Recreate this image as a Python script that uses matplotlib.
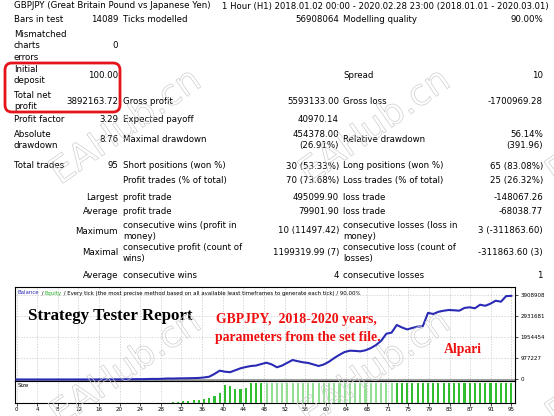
import matplotlib
matplotlib.use("Agg")
import matplotlib.pyplot as plt
import matplotlib.patheffects as pe
from matplotlib.patches import FancyBboxPatch
from matplotlib.transforms import IdentityTransform
import numpy as np

W, H = 554, 416

# header
title_left = "GBPJPY (Great Britain Pound vs Japanese Yen)"
title_right = "1 Hour (H1) 2018.01.02 00:00 - 2020.02.28 23:00 (2018.01.01 - 2020.03.01)"

# report table: label, value, label, value, label, value
report_rows = [
    ["Bars in test", "14089", "Ticks modelled", "56908064", "Modelling quality", "90.00%"],
    ["Mismatched\ncharts\nerrors", "0", "", "", "", ""],
    ["Initial\ndeposit", "100.00", "", "", "Spread", "10"],
    ["Total net\nprofit", "3892163.72", "Gross profit", "5593133.00", "Gross loss", "-1700969.28"],
    ["Profit factor", "3.29", "Expected payoff", "40970.14", "", ""],
    ["Absolute\ndrawdown", "8.76", "Maximal drawdown", "454378.00\n(26.91%)",
     "Relative drawdown", "56.14%\n(391.96)"],
    ["Total trades", "95", "Short positions (won %)", "30 (53.33%)",
     "Long positions (won %)", "65 (83.08%)"],
    ["", "", "Profit trades (% of total)", "70 (73.68%)",
     "Loss trades (% of total)", "25 (26.32%)"],
    ["", "Largest", "profit trade", "495099.90", "loss trade", "-148067.26"],
    ["", "Average", "profit trade", "79901.90", "loss trade", "-68038.77"],
    ["", "Maximum", "consecutive wins (profit in\nmoney)", "10 (11497.42)",
     "consecutive losses (loss in\nmoney)", "3 (-311863.60)"],
    ["", "Maximal", "consecutive profit (count of\nwins)", "1199319.99 (7)",
     "consecutive loss (count of\nlosses)", "-311863.60 (3)"],
    ["", "Average", "consecutive wins", "4", "consecutive losses", "1"],
]

# balance after each trade (trade 0 = initial deposit)
balance = [
    100, 91.24, 128, 175, 240, 215, 300, 410, 560, 760,
    690, 940, 1280, 1750, 2380, 2150, 2950, 4000, 5450, 7400,
    6700, 9100, 12400, 16800, 15200, 20600, 27900, 25300, 34200, 46300,
    44000, 52000, 54000, 58000, 65000, 72000, 95000, 130000, 260000, 410000,
    363000, 340000, 430000, 521000, 580000, 628000, 650000, 720000, 782000, 700000,
    568000, 650000, 780000, 907000, 850000, 800000, 770000, 700000, 628000, 700000,
    830000, 1000000, 1150000, 1280000, 1340000, 1330000, 1310000, 1360000, 1460000, 1600000,
    1800000, 2130000, 2180000, 2536000, 2420000, 2330000, 2400000, 2460000, 2480000, 3100000,
    3048000, 3150000, 3200000, 3234000, 3220000, 3202000, 3330000, 3360000, 3313000, 3480000,
    3430000, 3530000, 3667000, 3620000, 3880000, 3892264,
]

# lot size per trade
lot_size = [
    0.01, 0.01, 0.01, 0.01, 0.02, 0.02, 0.03, 0.03, 0.04, 0.05,
    0.06, 0.08, 0.1, 0.13, 0.17, 0.2, 0.25, 0.3, 0.4, 0.5,
    0.6, 0.7, 0.8, 1.0, 1.2, 1.4, 1.6, 1.8, 2.0, 2.5,
    4, 6, 8, 11, 13, 17, 20, 26, 35, 52,
    90, 85, 72, 72, 77, 100, 100, 100, 100, 100,
] + [100] * 46

y_ticks = [0, 977227, 1954454, 2931681, 3908908]
x_tick_labels = ["0", "4", "8", "12", "16", "20", "24", "28", "32", "36", "40", "44", "48",
                 "52", "56", "60", "64", "68", "71", "75", "79", "83", "87", "91", "95"]

legend_parts = [("Balance", "#2a2ab5"), (" / ", "black"), ("Equity", "#22b022"),
                (" / Every tick (the most precise method based on all available least "
                 "timeframes to generate each tick) / 90.00%", "black")]

fig = plt.figure(figsize=(W / 100, H / 100), dpi=100)
fig.patch.set_facecolor("white")


def fx(x):
    return x / W


def fy(y):
    return 1 - y / H


font = dict(family="DejaVu Sans", fontsize=6.2, color="black", linespacing=1.3)

fig.text(fx(14), fy(6), title_left, ha="left", va="center", **font)
fig.text(fx(222), fy(6), title_right, ha="left", va="center",
         **{**font, "fontsize": 6.1})

row_y = [20, 46, 75, 101, 120, 140, 166, 181, 197, 212, 231, 253, 276]
col_x = [14, 118, 123, 339, 343, 543]
col_ha = ["left", "right", "left", "right", "left", "right"]
for y, row in zip(row_y, report_rows):
    for x, ha, txt in zip(col_x, col_ha, row):
        if txt:
            fig.text(fx(x), fy(y), txt, ha=ha, va="center", **font)

# red highlight box
box = FancyBboxPatch((5, H - 112), 115, 49, boxstyle="round,pad=0,rounding_size=7",
                     transform=IdentityTransform(), facecolor="none",
                     edgecolor="#e5141b", linewidth=2.0, zorder=5)
fig.add_artist(box)

# chart panels
ax = fig.add_axes([fx(15), fy(381), 500 / W, 94 / H])
ax_s = fig.add_axes([fx(15), fy(403), 500 / W, 22 / H])

trades = np.arange(len(balance))
grid_kw = dict(color="#c8c8c8", linestyle=(0, (2, 2)), linewidth=0.5)
xt = np.linspace(0, 95, len(x_tick_labels))

ax.plot(trades, balance, color="#2a2ab5", lw=1.5, zorder=3)
ax.axhline(-28000, color="#a0a0a0", lw=2.2, zorder=2)
ax.set_xlim(-0.3, 95.7)
ax.set_ylim(-70000, 4304000)
ax.set_yticks(y_ticks)
ax.set_yticklabels([str(v) for v in y_ticks])
ax.yaxis.tick_right()
ax.set_xticks(xt)
ax.tick_params(axis="x", length=0, labelbottom=False)
ax.tick_params(axis="y", length=2, width=0.5, labelsize=4, pad=2)
ax.grid(True, **grid_kw)

bar_colors = ["#92de92" if 48 <= t <= 72 else "#2fbe2f" for t in trades]
ax_s.bar(trades, lot_size, width=0.4, color=bar_colors, zorder=3)
ax_s.set_xlim(-0.3, 95.7)
ax_s.set_ylim(0, 112)
ax_s.set_yticks([])
ax_s.set_xticks(xt)
ax_s.set_xticklabels(x_tick_labels)
ax_s.tick_params(axis="x", length=2, width=0.5, labelsize=4, pad=1)
ax_s.grid(True, axis="x", **grid_kw)
ax_s.text(0.005, 0.78, "Size", transform=ax_s.transAxes, fontsize=4, ha="left", va="center")

for a in (ax, ax_s):
    for sp in a.spines.values():
        sp.set_linewidth(0.8)
        sp.set_color("black")

# legend line above chart
renderer = fig.canvas.get_renderer()
x0 = 18
for txt, col in legend_parts:
    t = fig.text(fx(x0), fy(293), txt, ha="left", va="center", fontsize=3.9,
                 family="DejaVu Sans", color=col)
    x0 = t.get_window_extent(renderer).x1

# overlay captions
serif = ["Liberation Serif", "DejaVu Serif"]
fig.text(fx(28), fy(316), "Strategy Tester Report", ha="left", va="center",
         fontsize=12.2, fontweight="bold", family=serif, color="black")
fig.text(fx(216), fy(319), "GBPJPY,  2018-2020 years,", ha="left", va="center",
         fontsize=9.9, fontweight="bold", family=serif, color="#f01010")
fig.text(fx(215), fy(338), "parameters from the set file.", ha="left", va="center",
         fontsize=9.9, fontweight="bold", family=serif, color="#f01010")
fig.text(fx(444), fy(350), "Alpari", ha="left", va="center",
         fontsize=9.9, fontweight="bold", family=serif, color="#f01010")

# watermarks
for cx in (126, 375, 622):
    for cy in (127, 369):
        fig.text(fx(cx), fy(cy), "EAHub.cn", ha="center", va="center", rotation=35,
                 rotation_mode="anchor", fontsize=26, family="DejaVu Sans",
                 color=(1, 1, 1, 0), zorder=10,
                 path_effects=[pe.Stroke(linewidth=0.5, foreground="#cdcdcd")])

fig.savefig("out.png", dpi=100, facecolor="white")
